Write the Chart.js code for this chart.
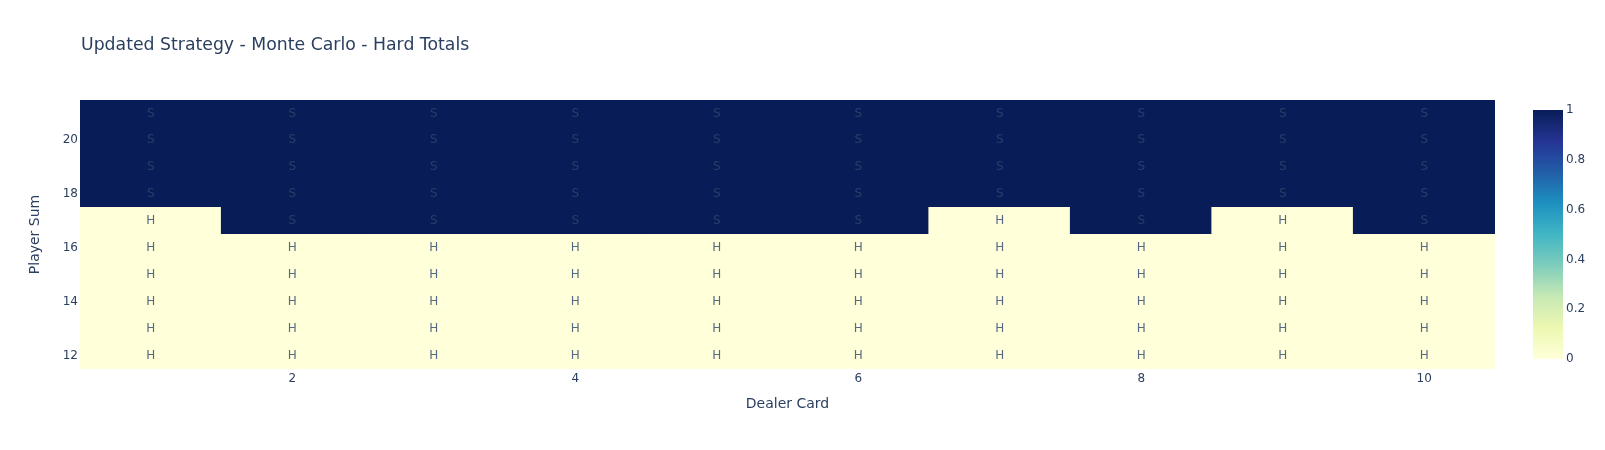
<!DOCTYPE html>
<html>
<head>
<meta charset="utf-8">
<script src="https://cdn.jsdelivr.net/npm/chart.js@4.4.1/dist/chart.umd.min.js"></script>
<style>
html,body{margin:0;padding:0;background:#fff;}
#wrap{width:1605px;height:450px;position:relative;}
</style>
</head>
<body>
<div id="wrap"><canvas id="c" width="1605" height="450"></canvas></div>
<script>
const dealerCards = [1,2,3,4,5,6,7,8,9,10];
const playerSums = [12,13,14,15,16,17,18,19,20,21];
const xTickLabels = [2,4,6,8,10];
const yTickLabels = [12,14,16,18,20];
const colorbarTicks = [0,0.2,0.4,0.6,0.8,1];
// strategy values: 1 = Stand (S), 0 = Hit (H); one array per player sum
const sum12 = [0,0,0,0,0,0,0,0,0,0];
const sum13 = [0,0,0,0,0,0,0,0,0,0];
const sum14 = [0,0,0,0,0,0,0,0,0,0];
const sum15 = [0,0,0,0,0,0,0,0,0,0];
const sum16 = [0,0,0,0,0,0,0,0,0,0];
const sum17 = [0,1,1,1,1,1,0,1,0,1];
const sum18 = [1,1,1,1,1,1,1,1,1,1];
const sum19 = [1,1,1,1,1,1,1,1,1,1];
const sum20 = [1,1,1,1,1,1,1,1,1,1];
const sum21 = [1,1,1,1,1,1,1,1,1,1];
const grid = [sum12,sum13,sum14,sum15,sum16,sum17,sum18,sum19,sum20,sum21];

const scaleStops = [
  [0,[255,255,217]],[0.125,[237,248,177]],[0.25,[199,233,180]],[0.375,[127,205,187]],
  [0.5,[65,182,196]],[0.625,[29,145,192]],[0.75,[34,94,168]],[0.875,[37,52,148]],[1,[8,29,88]]
];
function colorFor(v){
  for(let i=1;i<scaleStops.length;i++){
    if(v<=scaleStops[i][0]){
      const [a,ca]=scaleStops[i-1],[b,cb]=scaleStops[i];
      const t=(v-a)/(b-a);
      const c=ca.map((x,k)=>Math.round(x+(cb[k]-x)*t));
      return `rgb(${c[0]},${c[1]},${c[2]})`;
    }
  }
  return 'rgb(8,29,88)';
}

const FONT = '"DejaVu Sans", verdana, arial, sans-serif';
const TXT = '#2a3f5f';

const datasets = playerSums.map((ps, r) => ({
  label: String(ps),
  data: dealerCards.map((d, c) => ({x: d, y: [ps-0.5, ps+0.5], v: grid[r][c]})),
  backgroundColor: grid[r].map(colorFor),
  borderColor: grid[r].map(colorFor),
  borderWidth: 0,
  inflateAmount: 0.6,
  barPercentage: 1.0,
  categoryPercentage: 1.0,
  grouped: false
}));

const cellText = {
  id: 'cellText',
  afterDatasetsDraw(chart){
    const ctx = chart.ctx, xs = chart.scales.x, ys = chart.scales.y;
    ctx.save();
    ctx.font = '12px ' + FONT;
    ctx.textAlign = 'center';
    ctx.textBaseline = 'middle';
    playerSums.forEach((ps, r) => {
      dealerCards.forEach((d, c) => {
        const v = grid[r][c];
        ctx.fillStyle = v ? '#2d3d68' : '#566a86';
        ctx.fillText(v ? 'S' : 'H', xs.getPixelForValue(d), ys.getPixelForValue(ps));
      });
    });
    ctx.restore();
  }
};

const colorbar = {
  id: 'colorbar',
  afterDraw(chart){
    const ctx = chart.ctx;
    const x0 = 1533, w = 30, top = 110, bottom = 359;
    const g = ctx.createLinearGradient(0, bottom, 0, top);
    scaleStops.forEach(([p,c]) => g.addColorStop(p, `rgb(${c[0]},${c[1]},${c[2]})`));
    ctx.save();
    ctx.fillStyle = g;
    ctx.fillRect(x0, top, w, bottom-top);
    ctx.font = '12px ' + FONT;
    ctx.fillStyle = TXT;
    ctx.textAlign = 'left';
    ctx.textBaseline = 'middle';
    colorbarTicks.forEach(t => {
      ctx.fillText(String(t), x0 + w + 3, bottom - (bottom-top)*t);
    });
    ctx.restore();
  }
};

new Chart(document.getElementById('c'), {
  type: 'bar',
  data: { labels: dealerCards, datasets },
  options: {
    responsive: false,
    animation: false,
    parsing: { xAxisKey: 'x', yAxisKey: 'y' },
    layout: { padding: { left: 0, right: 110, top: 100, bottom: 21 } },
    plugins: {
      legend: { display: false },
      tooltip: { enabled: false },
      title: { display: false }
    },
    scales: {
      x: {
        type: 'linear',
        min: 0.5, max: 10.5,
        offset: false,
        grid: { display: false, drawTicks: false },
        border: { display: false },
        afterBuildTicks: s => { s.ticks = xTickLabels.map(v => ({value: v})); },
        afterFit: s => { s.height = 60; },
        ticks: { padding: 3, color: TXT, font: { family: FONT, size: 12 } },
        title: { display: true, text: 'Dealer Card', color: TXT, font: { family: FONT, size: 14 }, padding: { top: 0, bottom: 16 } }
      },
      y: {
        type: 'linear',
        min: 11.5, max: 21.5,
        grid: { display: false, drawTicks: false },
        border: { display: false },
        afterBuildTicks: s => { s.ticks = yTickLabels.map(v => ({value: v})); },
        afterFit: s => { s.width = 80; },
        ticks: { padding: 2, color: TXT, font: { family: FONT, size: 12 } },
        title: { display: true, text: 'Player Sum', color: TXT, font: { family: FONT, size: 14 }, padding: { top: 27, bottom: 27 } }
      }
    }
  },
  plugins: [cellText, colorbar, {
    id: 'mainTitle',
    afterDraw(chart){
      const ctx = chart.ctx;
      ctx.save();
      ctx.font = '17.3px ' + FONT;
      ctx.fillStyle = TXT;
      ctx.textAlign = 'left';
      ctx.textBaseline = 'middle';
      ctx.fillText('Updated Strategy - Monte Carlo - Hard Totals', 81, 46);
      ctx.restore();
    }
  }]
});
</script>
</body>
</html>
